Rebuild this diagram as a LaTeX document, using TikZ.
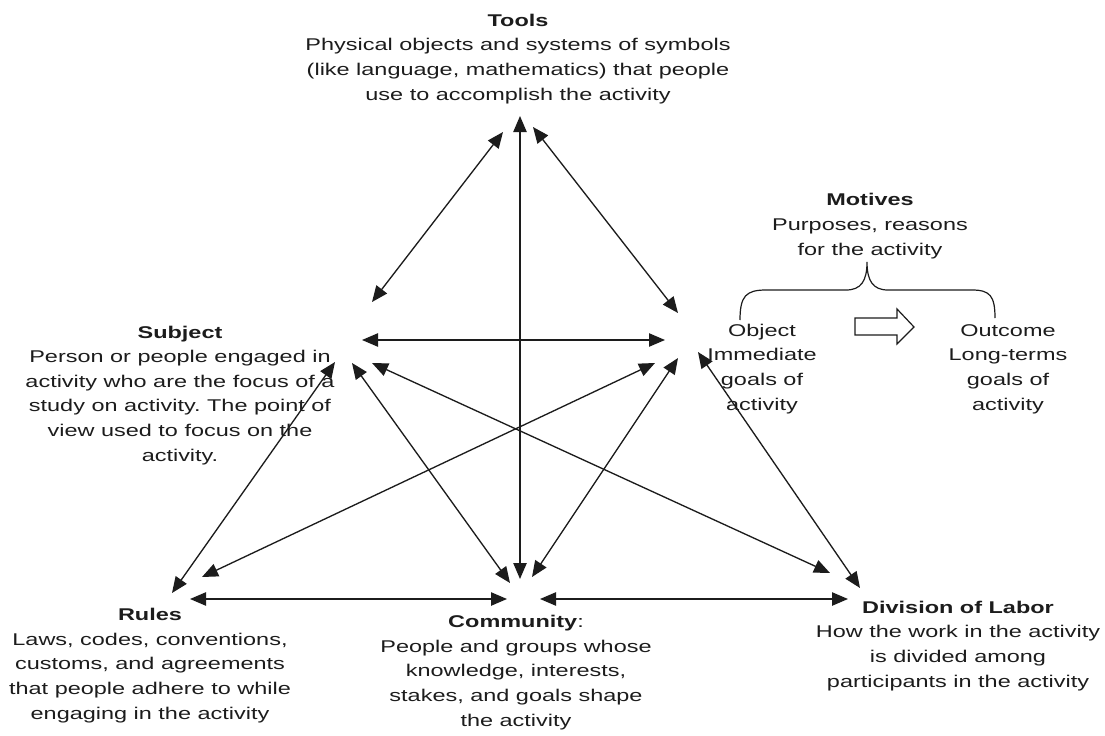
\documentclass[tikz,border=0pt]{standalone}
\usepackage{fontspec}
\setmainfont{Liberation Sans}[FakeStretch=1.38]
\usetikzlibrary{arrows.meta}
\definecolor{ink}{HTML}{1C1C1C}
\frenchspacing
\begin{document}
\begin{tikzpicture}[x=0.75pt,y=-0.75pt,
  label text/.style={anchor=base,align=center,inner sep=0pt,text=ink,
    font=\fontsize{12.75pt}{18.4pt}\selectfont},
  link/.style={draw=ink,line width=1pt,
    {Triangle[length=12pt,width=10pt]}-{Triangle[length=12pt,width=10pt]}},
  brace line/.style={draw=ink,line width=0.9pt},
  hollow arrow/.style={draw=ink,line width=0.9pt,fill=white}]
\useasboundingbox (0,0) rectangle (1105,735);

% ---- text blocks (placed by the baseline of their last line) ----
\node[label text] (tools) at (518,100) {\textbf{Tools}\\Physical objects and systems of symbols\\(like language, mathematics) that people\\use to accomplish the activity};
\node[label text] (subject) at (180,461) {\textbf{Subject}\\Person or people engaged in\\activity who are the focus of a\\study on activity. The point of\\view used to focus on the\\activity.};
\node[label text] (rules) at (150,719) {\textbf{Rules}\\Laws, codes, conventions,\\customs, and agreements\\that people adhere to while\\engaging in the activity};
\node[label text] (community) at (516,726) {\textbf{Community}:\\People and groups whose\\knowledge, interests,\\stakes, and goals shape\\the activity};
\node[label text] (division) at (958,687) {\textbf{Division of Labor}\\How the work in the activity\\is divided among\\participants in the activity};
\node[label text] (motives) at (870,255) {\textbf{Motives}\\Purposes, reasons\\for the activity};
\node[label text] (object) at (762,410) {Object\\Immediate\\goals of\\activity};
\node[label text] (outcome) at (1008,410) {Outcome\\Long-terms\\goals of\\activity};

% ---- connector end points around each corner ----
\coordinate (T-v) at (520,116);
\coordinate (T-l) at (503,132);
\coordinate (T-r) at (533,127);
\coordinate (S-t) at (372,302);
\coordinate (S-h) at (362,340);
\coordinate (S-r) at (335,362);
\coordinate (S-c) at (352,363);
\coordinate (S-d) at (372,363);
\coordinate (O-t) at (678,313);
\coordinate (O-h) at (665,340);
\coordinate (O-r) at (655,363);
\coordinate (O-c) at (678,358);
\coordinate (O-d) at (698,352);
\coordinate (R-s) at (172,593);
\coordinate (R-o) at (202,577);
\coordinate (R-h) at (190,599);
\coordinate (C-v) at (520,579);
\coordinate (C-s) at (510,583);
\coordinate (C-o) at (532,577);
\coordinate (C-l) at (507,599);
\coordinate (C-r) at (540,599);
\coordinate (D-s) at (830,573);
\coordinate (D-o) at (860,588);
\coordinate (D-h) at (848,599);

% ---- double-headed links ----
\draw[link] (T-v) -- (C-v);
\draw[link] (T-l) -- (S-t);
\draw[link] (T-r) -- (O-t);
\draw[link] (S-h) -- (O-h);
\draw[link] (S-r) -- (R-s);
\draw[link] (R-o) -- (O-r);
\draw[link] (S-c) -- (C-s);
\draw[link] (S-d) -- (D-s);
\draw[link] (C-o) -- (O-c);
\draw[link] (O-d) -- (D-o);
\draw[link] (R-h) -- (C-l);
\draw[link] (C-r) -- (D-h);

% ---- brace joining object and outcome under the motives ----
\draw[brace line] (740,320) .. controls (740,296) and (746,290) .. (766,290)
  -- (846,290) .. controls (861,290) and (867,281) .. (867,262)
  .. controls (867,281) and (873,290) .. (888,290)
  -- (972,290) .. controls (990,290) and (995,296) .. (995,318);

% ---- hollow arrow from object to outcome ----
\draw[hollow arrow] (855,318) -- (897,318) -- (897,309) -- (914,327)
  -- (897,344) -- (897,335) -- (855,335) -- cycle;
\end{tikzpicture}
\end{document}
